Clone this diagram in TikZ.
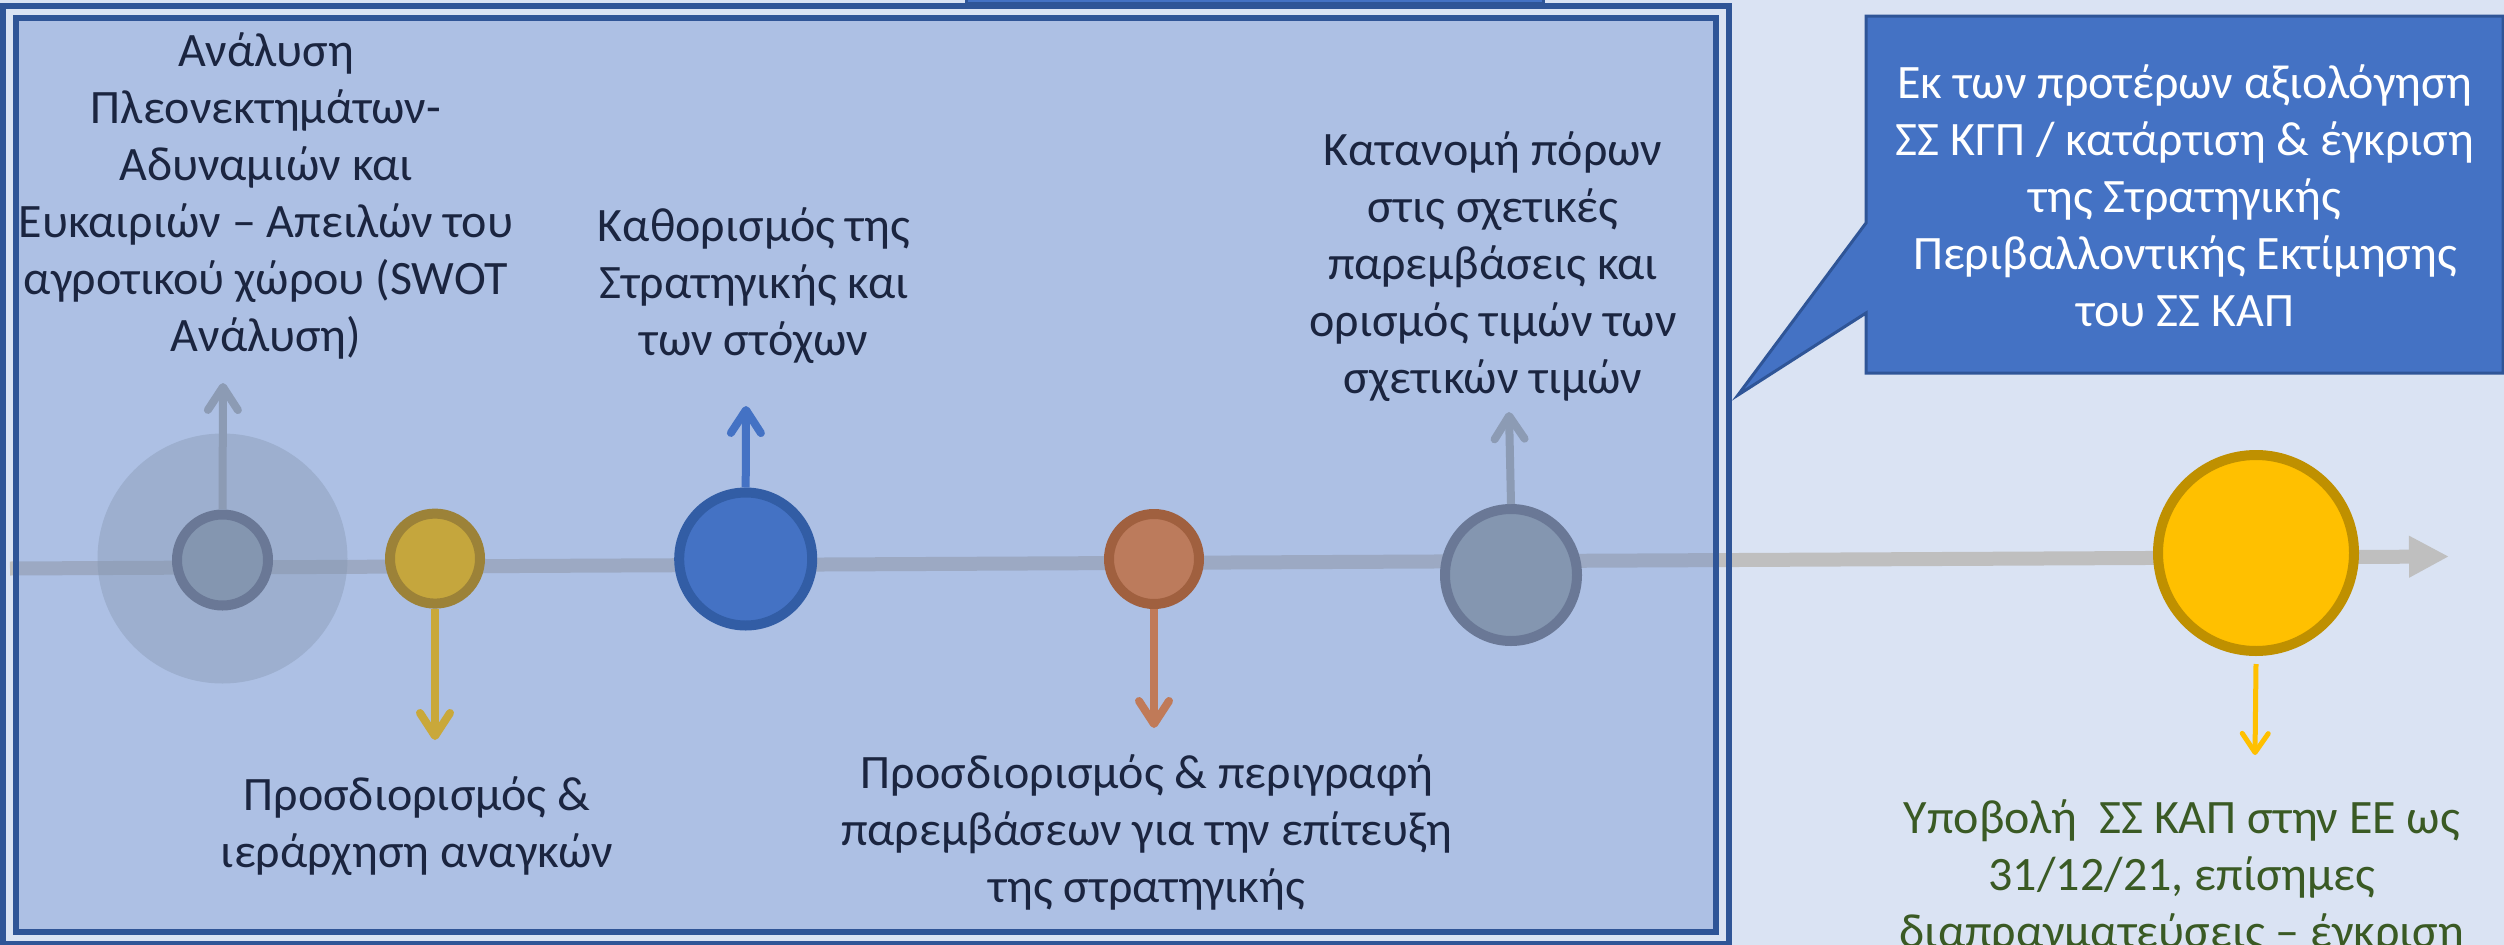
\documentclass[tikz,border=0pt]{standalone}
\usepackage{fontspec}
\setmainfont{Carlito}
\usetikzlibrary{arrows.meta}
\definecolor{bgc}{HTML}{DAE3F3}
\definecolor{boxc}{HTML}{6487CC}
\definecolor{frame}{HTML}{2F5597}
\definecolor{tlc}{HTML}{BFBFBF}
\definecolor{txtc}{HTML}{1B2540}
\definecolor{greentxt}{HTML}{3A5A24}
\definecolor{greyf}{HTML}{8496B0}
\definecolor{greyd}{HTML}{6A7896}
\definecolor{goldf}{HTML}{C5A63D}
\definecolor{goldd}{HTML}{9C8238}
\definecolor{bluef}{HTML}{4472C4}
\definecolor{blued}{HTML}{325DA5}
\definecolor{orf}{HTML}{BC7B5C}
\definecolor{ord}{HTML}{A0603F}
\definecolor{yelf}{HTML}{FFC000}
\definecolor{yeld}{HTML}{BF9000}
\definecolor{greyarr}{HTML}{8C9BB4}
\definecolor{goldarr}{HTML}{C9A83A}
\definecolor{orarr}{HTML}{C07A58}
\begin{document}
\begin{tikzpicture}[x=1pt,y=-1pt,
  dot/.style={circle, draw, line width=10pt, inner sep=0pt},
  lbl/.style={font=\fontsize{48}{57}\selectfont, align=center, text=txtc, inner sep=0pt},
  tick/.style={line width=8pt, -{Straight Barb[length=23pt,width=30pt,round]}},
]
\useasboundingbox (0,0) rectangle (2504,945);
\clip (0,0) rectangle (2504,945);
\fill[bgc] (0,0) rectangle (2504,945);

% timeline
\coordinate (tl0) at (10,568.5);
\coordinate (tl1) at (2449,556.5);
\draw[line width=14pt, tlc, -{Triangle[length=40pt,width=39pt]}] (tl0) -- (tl1);

% top tab
\filldraw[fill=bluef, draw=frame, line width=3pt] (966,-20) rectangle (1543,3);

% main box
\fill[boxc, fill opacity=0.38] (16,18) rectangle (1716,932);
\draw[frame, line width=6.3pt] (16,18) rectangle (1716,932);
\draw[frame, line width=6pt] (3,5.5) rectangle (1729,943.5);

% halo
\fill[greyf, opacity=0.39] (222.5,558.5) circle[radius=125];

% milestones
\node[dot, fill=greyf, draw=greyd, minimum size=91pt] (c1) at (222.5,560) {};
\node[dot, fill=goldf, draw=goldd, minimum size=90pt] (c2) at (435,558.6) {};
\node[dot, fill=bluef, draw=blued, minimum size=133pt] (c3) at (745.7,559) {};
\node[dot, fill=orf, draw=ord, minimum size=90pt] (c4) at (1154,559) {};
\node[dot, fill=greyf, draw=greyd, minimum size=132pt] (c5) at (1511,575) {};
\node[dot, fill=yelf, draw=yeld, minimum size=196pt] (c6) at (2256,553) {};

% arrow ends
\coordinate (a1) at (223,383);
\coordinate (a2) at (435,740);
\coordinate (a3) at (746,406);
\coordinate (a4) at (1154,728);
\coordinate (a5) at (1509,412);
\coordinate (a6) at (2255,755);

\draw[tick, greyarr] (c1.north) -- (a1);
\draw[tick, goldarr] (c2.south) -- (a2);
\draw[tick, bluef] (c3.north) -- (a3);
\draw[tick, orarr] (c4.south) -- (a4);
\draw[tick, greyarr] (c5.north) -- (a5);
\draw[line width=5pt, yelf, -{Straight Barb[length=19pt,width=26pt,round]}] (c6.south) ++(0,8) -- (a6);

% labels
\node[lbl, anchor=north] (t1) at (266,32.5) {Ανάλυση\\Πλεονεκτημάτων-\\Αδυναμιών και\\Ευκαιριών – Απειλών του\\αγροτικού χώρου (SWOT\\Ανάλυση)};
\node[lbl, anchor=north] (t3) at (754,207.5) {Καθορισμός της\\Στρατηγικής και\\των στόχων};
\node[lbl, anchor=north] (t5) at (1493,131.5) {Κατανομή πόρων\\στις σχετικές\\παρεμβάσεις και\\ορισμός τιμών των\\σχετικών τιμών};
\node[lbl, anchor=north] (t2) at (417,776) {Προσδιορισμός \&\\ιεράρχηση αναγκών};
\node[lbl, anchor=north] (t4) at (1147,754) {Προσδιορισμός \& περιγραφή\\παρεμβάσεων για την επίτευξη\\της στρατηγικής};
\node[lbl, anchor=north, text=greentxt] (t6) at (2182,799) {Υποβολή\ \ ΣΣ ΚΑΠ στην ΕΕ ως\\31/12/21, επίσημες\\διαπραγματεύσεις – έγκριση};

% callout
\filldraw[fill=bluef, draw=frame, line width=3pt]
  (1866,16) -- (2503,16) -- (2503,373) -- (1866,373) -- (1866,313) -- (1738,395) -- (1866,223) -- cycle;
\node[lbl, anchor=north, text=white] (co) at (2185,64.5) {Εκ των προτέρων αξιολόγηση\\ΣΣ ΚΓΠ / κατάρτιση \& έγκριση\\της Στρατηγικής\\Περιβαλλοντικής Εκτίμησης\\του ΣΣ ΚΑΠ};
\end{tikzpicture}
\end{document}
